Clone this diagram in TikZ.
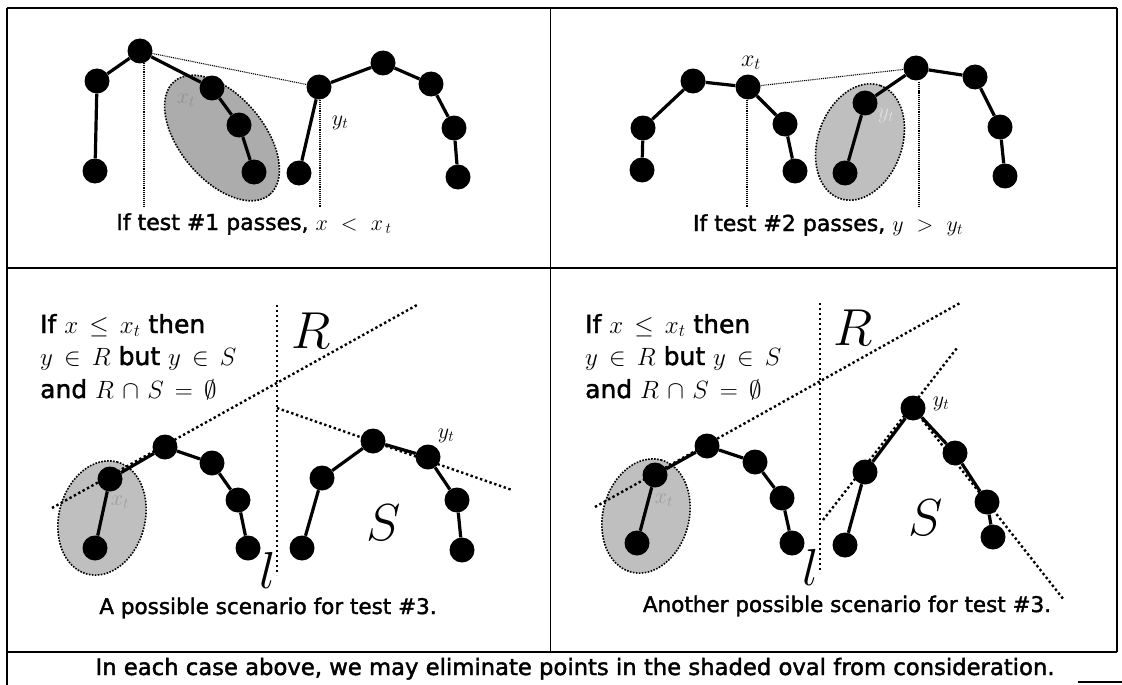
\documentclass[tikz,border=0pt]{standalone}
\usepackage{fix-cm}
\usepackage{fontspec}
\setmainfont{DejaVu Sans}[FakeBold=1.8]
\newcommand{\smath}[1]{{\thickmuskip=8mu\medmuskip=6mu$#1$}}
\begin{document}
\begin{tikzpicture}[x=1pt,y=-1pt,
  dotpt/.style={circle,fill=black,inner sep=0pt,minimum size=25pt},
  chainline/.style={line width=3.2pt},
  thindot/.style={line width=1.1pt,dash pattern=on 1pt off 0.9pt},
  bigdot/.style={line width=2.4pt,dash pattern=on 2.4pt off 2.6pt},
  ovalA/.style={fill=gray!65,draw=black,line width=1.6pt,dash pattern=on 1.6pt off 1.4pt},
  ovalB/.style={fill=gray!50,draw=black,line width=1.6pt,dash pattern=on 1.6pt off 1.4pt},
  framel/.style={line width=1.8pt},
  captxt/.style={font=\fontsize{21.5}{25}\selectfont,inner sep=0pt},
  toptxt/.style={font=\fontsize{22}{25}\selectfont,inner sep=0pt},
  blocktxt/.style={font=\fontsize{25}{30}\selectfont,inner sep=0pt},
  bottxt/.style={font=\fontsize{22.7}{26}\selectfont,inner sep=0pt},
  mlab/.style={font=\fontsize{22}{25}\selectfont,inner sep=0pt},
  hidtxt/.style={font=\fontsize{22}{25}\selectfont,inner sep=0pt,text=gray!85},
  bigtxt/.style={font=\fontsize{52}{52}\selectfont,inner sep=0pt},
]
\useasboundingbox (0,0) rectangle (1122,685);
\fill[white] (0,0) rectangle (1122,685);

% frame
\draw[framel] (7,8) -- (1117,8);
\draw[framel] (7,8) -- (7,685);
\draw[framel] (1117,8) -- (1117,652);
\draw[framel] (7,268) -- (1117,268);
\draw[framel] (7,652) -- (1117,652);
\draw[line width=1pt] (550,8) -- (550,652);
\draw[line width=1.2pt] (1078,682) -- (1122,682);

% ---------- panel 1 ----------
\draw[ovalA, rotate around={-50:(222,138)}] (222,138) ellipse [x radius=74, y radius=42];
\node[hidtxt] (h1lab) at (186,100) {$x_t$};
\node[dotpt] (a0) at (95,171) {};
\node[dotpt] (a1) at (97,81) {};
\node[dotpt] (a2) at (140,51) {};
\node[dotpt] (a3) at (212,88) {};
\node[dotpt] (a4) at (239,125) {};
\node[dotpt] (a5) at (254,172) {};
\node[dotpt] (b0) at (299,173) {};
\node[dotpt] (b1) at (319,87) {};
\node[dotpt] (b2) at (383,63) {};
\node[dotpt] (b3) at (431,84) {};
\node[dotpt] (b4) at (454,128) {};
\node[dotpt] (b5) at (458,177) {};
\draw[chainline] (a0) -- (a1) -- (a2) -- (a3) -- (a4) -- (a5);
\draw[chainline] (b0) -- (b1) -- (b2) -- (b3) -- (b4) -- (b5);
\draw[thindot] (a2) -- (b1);
\coordinate (v1a) at (144,63);
\coordinate (v1b) at (144,207);
\coordinate (v2a) at (320,100);
\coordinate (v2b) at (320,207);
\draw[thindot] (v1a) -- (v1b);
\draw[thindot] (v2a) -- (v2b);
\node[mlab] (yt1) at (340,123) {$y_t$};
\node[toptxt,anchor=base] (cap1) at (254,230) {If test \#1 passes, $x\hspace{7pt}<\hspace{7pt}x_{\,t}$};

% ---------- panel 2 ----------
\draw[ovalB, rotate around={70:(860,142)}] (860,142) ellipse [x radius=60, y radius=42];
\node[hidtxt,text=gray!25] (h2lab) at (886,116) {$y_t$};
\node[dotpt] (c0) at (642,170) {};
\node[dotpt] (c1) at (643,128) {};
\node[dotpt] (c2) at (693,81) {};
\node[dotpt] (c3) at (748,87) {};
\node[dotpt] (c4) at (785,124) {};
\node[dotpt] (c5) at (795,171) {};
\node[dotpt] (e0) at (845,173) {};
\node[dotpt] (e1) at (865,103) {};
\node[dotpt] (e2) at (916,68) {};
\node[dotpt] (e3) at (975,77) {};
\node[dotpt] (e4) at (1000,127) {};
\node[dotpt] (e5) at (1005,176) {};
\draw[chainline] (c0) -- (c1) -- (c2) -- (c3) -- (c4) -- (c5);
\draw[chainline] (e0) -- (e1) -- (e2) -- (e3) -- (e4) -- (e5);
\draw[thindot] (c3) -- (e2);
\coordinate (v3a) at (747,100);
\coordinate (v3b) at (747,207);
\coordinate (v4a) at (919,82);
\coordinate (v4b) at (919,207);
\draw[thindot] (v3a) -- (v3b);
\draw[thindot] (v4a) -- (v4b);
\node[mlab,font=\fontsize{24}{26}\selectfont] (xt2) at (751,63) {$x_t$};
\node[toptxt,anchor=base] (cap2) at (828,231) {If test \#2 passes, $y\hspace{7pt}>\hspace{7pt}y_{t}$};

% ---------- panel 3 ----------
\node[blocktxt,anchor=base west] (t31) at (40,333) {If \smath{x\leq x_t} then};
\node[blocktxt,anchor=base west] (t32) at (40,365) {\smath{y\in R} but \smath{y\in S}};
\node[blocktxt,anchor=base west] (t33) at (40,398) {and \smath{R\cap S=\emptyset}};
\draw[ovalB, rotate around={75:(102,518)}] (102,518) ellipse [x radius=58, y radius=43];
\node[hidtxt,text=gray!75] (h3lab) at (120,502) {$x_t$};
\coordinate (l3a) at (277,305);
\coordinate (l3b) at (277,575);
\draw[bigdot] (l3a) -- (l3b);
\coordinate (p3a) at (52,508);
\coordinate (p3b) at (417,305);
\draw[bigdot] (p3a) -- (p3b);
\coordinate (q3a) at (277,408);
\coordinate (q3b) at (512,490);
\draw[bigdot] (q3a) -- (q3b);
\node[dotpt] (f0) at (95,548) {};
\node[dotpt] (f1) at (110,479) {};
\node[dotpt] (f2) at (165,447) {};
\node[dotpt] (f3) at (212,463) {};
\node[dotpt] (f4) at (238,500) {};
\node[dotpt] (f5) at (248,548) {};
\node[dotpt] (g0) at (302,548) {};
\node[dotpt] (g1) at (322,478) {};
\node[dotpt] (g2) at (373,441) {};
\node[dotpt] (g3) at (428,457) {};
\node[dotpt] (g4) at (457,500) {};
\node[dotpt] (g5) at (462,550) {};
\draw[chainline] (f0) -- (f1) -- (f2) -- (f3) -- (f4) -- (f5);
\draw[chainline] (g0) -- (g1) -- (g2) -- (g3) -- (g4) -- (g5);
\node[bigtxt,anchor=base west] (R3) at (291,348) {$R$};
\node[bigtxt,anchor=base west] (S3) at (366,540) {$S$};
\node[bigtxt,anchor=base west] (L3) at (259,588) {$l$};
\node[mlab] (yt3) at (446,436) {$y_t$};
\node[captxt,anchor=base] (cap3) at (268,614) {A possible scenario for test \#3.};

% ---------- panel 4 ----------
\node[blocktxt,anchor=base west] (t41) at (585,333) {If \smath{x\leq x_t} then};
\node[blocktxt,anchor=base west] (t42) at (585,365) {\smath{y\in R} but \smath{y\in S}};
\node[blocktxt,anchor=base west] (t43) at (585,398) {and \smath{R\cap S=\emptyset}};
\draw[ovalB, rotate around={75:(646,516)}] (646,516) ellipse [x radius=58, y radius=43];
\node[hidtxt,text=gray!75] (h4lab) at (664,500) {$x_t$};
\coordinate (l4a) at (820,303);
\coordinate (l4b) at (820,573);
\draw[bigdot] (l4a) -- (l4b);
\coordinate (p4a) at (595,507);
\coordinate (p4b) at (960,303);
\draw[bigdot] (p4a) -- (p4b);
\coordinate (q4a) at (823,520);
\coordinate (q4b) at (957,348);
\draw[bigdot] (q4a) -- (q4b);
\coordinate (r4a) at (913,408);
\coordinate (r4b) at (1064,600);
\draw[bigdot] (r4a) -- (r4b);
\node[dotpt] (m0) at (637,543) {};
\node[dotpt] (m1) at (655,475) {};
\node[dotpt] (m2) at (707,446) {};
\node[dotpt] (m3) at (755,462) {};
\node[dotpt] (m4) at (782,498) {};
\node[dotpt] (m5) at (792,543) {};
\node[dotpt] (n0) at (845,545) {};
\node[dotpt] (n1) at (865,472) {};
\node[dotpt] (n2) at (913,408) {};
\node[dotpt] (n3) at (955,453) {};
\node[dotpt] (n4) at (987,502) {};
\node[dotpt] (n5) at (993,537) {};
\draw[chainline] (m0) -- (m1) -- (m2) -- (m3) -- (m4) -- (m5);
\draw[chainline] (n0) -- (n1) -- (n2) -- (n3) -- (n4) -- (n5);
\node[bigtxt,anchor=base west] (R4) at (833,345) {$R$};
\node[bigtxt,anchor=base west] (S4) at (908,535) {$S$};
\node[bigtxt,anchor=base west] (L4) at (802,585) {$l$};
\node[mlab] (yt4) at (941,404) {$y_t$};
\node[captxt,anchor=base] (cap4) at (847,612) {Another possible scenario for test \#3.};

% ---------- bottom ----------
\node[bottxt,anchor=base] (bottom) at (575,675) {In each case above, we may eliminate points in the shaded oval from consideration.};
\end{tikzpicture}
\end{document}
